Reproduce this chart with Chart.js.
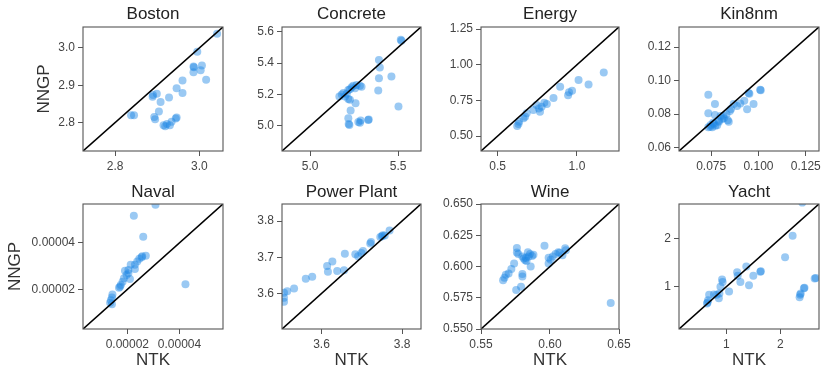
<!DOCTYPE html>
<html>
<head>
<meta charset="utf-8">
<script src="https://cdn.jsdelivr.net/npm/chart.js@4.4.1/dist/chart.umd.min.js"></script>
<style>
  html, body { margin: 0; padding: 0; background: #fff; }
  #wrap { position: relative; width: 831px; height: 378px; overflow: hidden; }
  #wrap canvas { position: absolute; left: 0; top: 0; }
</style>
</head>
<body>
<div id="wrap"></div>
<script>
// [NTK, NNGP] pairs
const bostonPts = [[2.838,2.820],[2.845,2.820],[2.889,2.869],[2.890,2.874],[2.899,2.877],[2.908,2.855],[2.928,2.867],[2.904,2.830],[2.893,2.815],[2.895,2.809],[2.915,2.793],[2.919,2.790],[2.923,2.796],[2.930,2.793],[2.934,2.802],[2.944,2.811],[2.946,2.814],[2.946,2.892],[2.960,2.879],[2.960,2.913],[2.986,2.950],[2.987,2.948],[2.986,2.935],[2.995,2.990],[3.006,2.953],[3.003,2.940],[3.016,2.915],[3.042,3.038]];
const concretePts = [[5.515,5.548],[5.519,5.542],[5.391,5.420],[5.396,5.372],[5.391,5.304],[5.462,5.314],[5.387,5.225],[5.502,5.123],[5.166,5.187],[5.180,5.200],[5.189,5.210],[5.198,5.187],[5.208,5.204],[5.217,5.229],[5.226,5.233],[5.236,5.246],[5.245,5.255],[5.255,5.240],[5.264,5.261],[5.283,5.255],[5.292,5.250],[5.217,5.172],[5.226,5.166],[5.258,5.144],[5.230,5.098],[5.217,5.049],[5.223,5.006],[5.219,5.012],[5.274,5.025],[5.283,5.020],[5.287,5.035],[5.330,5.038],[5.333,5.040]];
const energyPts = [[1.169,0.946],[1.010,0.893],[1.073,0.862],[0.894,0.846],[0.969,0.818],[0.950,0.808],[0.944,0.787],[0.852,0.766],[0.794,0.734],[0.810,0.724],[0.777,0.706],[0.760,0.694],[0.746,0.717],[0.767,0.671],[0.725,0.682],[0.683,0.659],[0.673,0.636],[0.663,0.624],[0.635,0.600],[0.631,0.584],[0.623,0.570]];
const kinPts = [[0.0735,0.0916],[0.0770,0.0860],[0.0735,0.0805],[0.0770,0.0795],[0.0735,0.0722],[0.0747,0.0735],[0.0756,0.0722],[0.0765,0.0743],[0.0772,0.0730],[0.0782,0.0734],[0.0791,0.0754],[0.0800,0.0789],[0.0808,0.0771],[0.0817,0.0775],[0.0831,0.0799],[0.0838,0.0764],[0.0843,0.0754],[0.0849,0.0819],[0.0869,0.0860],[0.0887,0.0848],[0.0904,0.0863],[0.0925,0.0880],[0.0940,0.0829],[0.0948,0.0926],[0.0952,0.0922],[0.0974,0.0860],[0.1009,0.0945],[0.1012,0.0942],[0.0760,0.0748],[0.0790,0.0760],[0.0815,0.0790],[0.0855,0.0830],[0.0745,0.0725]];
const navalPts = [[3.08e-5,5.64e-5],[2.25e-5,5.16e-5],[2.61e-5,4.26e-5],[2.57e-5,3.42e-5],[2.71e-5,3.45e-5],[2.55e-5,3.38e-5],[2.46e-5,3.32e-5],[2.38e-5,3.20e-5],[2.29e-5,3.06e-5],[2.29e-5,2.88e-5],[2.13e-5,3.06e-5],[2.04e-5,2.84e-5],[1.91e-5,2.80e-5],[2.04e-5,2.70e-5],[1.97e-5,2.62e-5],[1.87e-5,2.48e-5],[2.10e-5,2.45e-5],[1.82e-5,2.33e-5],[1.75e-5,2.19e-5],[1.68e-5,2.07e-5],[1.72e-5,2.12e-5],[1.43e-5,1.78e-5],[1.41e-5,1.65e-5],[1.37e-5,1.54e-5],[1.34e-5,1.43e-5],[1.41e-5,1.36e-5],[4.23e-5,2.22e-5]];
const powerPts = [[3.507,3.577],[3.507,3.588],[3.507,3.602],[3.515,3.606],[3.532,3.614],[3.561,3.641],[3.577,3.646],[3.614,3.676],[3.616,3.660],[3.627,3.688],[3.639,3.662],[3.656,3.664],[3.658,3.710],[3.684,3.708],[3.691,3.703],[3.699,3.712],[3.703,3.717],[3.721,3.738],[3.723,3.742],[3.746,3.756],[3.750,3.758],[3.752,3.761],[3.757,3.760],[3.769,3.774]];
const winePts = [[0.576,0.6148],[0.576,0.6113],[0.577,0.610],[0.580,0.608],[0.581,0.6065],[0.582,0.605],[0.5825,0.607],[0.583,0.6045],[0.584,0.6115],[0.5855,0.610],[0.587,0.6085],[0.588,0.6095],[0.5845,0.608],[0.574,0.6025],[0.572,0.598],[0.570,0.5945],[0.568,0.5935],[0.567,0.591],[0.566,0.589],[0.580,0.594],[0.580,0.592],[0.586,0.600],[0.5755,0.5812],[0.579,0.5839],[0.596,0.6167],[0.599,0.607],[0.6005,0.6055],[0.599,0.6025],[0.602,0.608],[0.604,0.610],[0.606,0.6115],[0.607,0.611],[0.609,0.609],[0.611,0.6147],[0.6115,0.613],[0.644,0.5708]];
const yachtPts = [[2.41,2.75],[2.23,2.06],[2.09,1.61],[2.64,1.17],[2.66,1.18],[2.44,0.97],[2.45,0.98],[2.38,0.86],[2.37,0.83],[2.36,0.78],[1.63,1.31],[1.64,1.32],[1.50,1.23],[1.42,1.03],[1.37,1.42],[1.20,1.30],[1.21,1.23],[1.26,1.10],[1.05,0.90],[0.92,1.15],[0.93,1.10],[0.89,1.00],[0.87,0.86],[0.86,0.76],[0.77,0.84],[0.82,0.83],[0.68,0.83],[0.66,0.72],[0.64,0.65],[0.65,0.67]];

// axis limits (same on both axes, diagonal runs corner to corner)
const bostonLim = [2.724, 3.056];
const concreteLim = [4.84, 5.63];
const energyLim = [0.395, 1.265];
const kinLim = [0.058, 0.132];
const navalLim = [0.000003, 0.0000567];
const powerLim = [3.502, 3.847];
const wineLim = [0.55, 0.65];
const yachtLim = [0.12, 2.72];

// tick labels
const bostonX = ['2.8', '3.0'], bostonY = ['2.8', '2.9', '3.0'];
const concreteX = ['5.0', '5.5'], concreteY = ['5.0', '5.2', '5.4', '5.6'];
const energyX = ['0.5', '1.0'], energyY = ['0.50', '0.75', '1.00', '1.25'];
const kinX = ['0.075', '0.100', '0.125'], kinY = ['0.06', '0.08', '0.10', '0.12'];
const navalX = ['0.00002', '0.00004'], navalY = ['0.00002', '0.00004'];
const powerX = ['3.6', '3.8'], powerY = ['3.6', '3.7', '3.8'];
const wineX = ['0.55', '0.60', '0.65'], wineY = ['0.550', '0.575', '0.600', '0.625', '0.650'];
const yachtX = ['1', '2'], yachtY = ['1', '2'];

const panels = [
  { name: 'Boston', pts: bostonPts, lim: bostonLim, xt: bostonX, yt: bostonY },
  { name: 'Concrete', pts: concretePts, lim: concreteLim, xt: concreteX, yt: concreteY },
  { name: 'Energy', pts: energyPts, lim: energyLim, xt: energyX, yt: energyY },
  { name: 'Kin8nm', pts: kinPts, lim: kinLim, xt: kinX, yt: kinY },
  { name: 'Naval', pts: navalPts, lim: navalLim, xt: navalX, yt: navalY },
  { name: 'Power Plant', pts: powerPts, lim: powerLim, xt: powerX, yt: powerY },
  { name: 'Wine', pts: winePts, lim: wineLim, xt: wineX, yt: wineY },
  { name: 'Yacht', pts: yachtPts, lim: yachtLim, xt: yachtX, yt: yachtY }
];

// layout in page pixels
const W = 831, H = 378;
const cols = [[83, 223], [282, 421], [481, 619], [679, 819]];
const rows = [
  { top: 27, bottom: 151, titleY: 14, yTitleX: 44 },
  { top: 204, bottom: 329, titleY: 192.5, yTitleX: 15 }
];
const FONT = '"Liberation Sans", Arial, Helvetica, sans-serif';
const BIG = 17, HALF = BIG * 1.2 / 2;
const INK = '#555';

Chart.defaults.font.family = FONT;

const frame = {
  id: 'frame',
  afterDatasetsDraw(chart) {
    const a = chart.chartArea, ctx = chart.ctx;
    ctx.save();
    ctx.strokeStyle = INK;
    ctx.lineWidth = 1.1;
    ctx.strokeRect(a.left, a.top, a.right - a.left, a.bottom - a.top);
    ctx.restore();
  }
};

const wrap = document.getElementById('wrap');

panels.forEach((p, i) => {
  const r = rows[Math.floor(i / 4)];
  const c = cols[i % 4];
  const firstCol = i % 4 === 0, lastRow = i >= 4;
  const wy = firstCol ? c[0] - r.yTitleX + HALF : 60;
  const hx = lastRow ? 360 + HALF - r.bottom : 30;

  const cv = document.createElement('canvas');
  cv.width = W; cv.height = H;
  cv.style.width = W + 'px'; cv.style.height = H + 'px';
  wrap.appendChild(cv);

  const tickCfg = (labels) => ({
    font: { size: 12 },
    color: '#444',
    padding: 3,
    autoSkip: false,
    maxRotation: 0,
    callback: (v) => {
      const l = labels.find(s => Math.abs(parseFloat(s) - v) < 1e-12);
      return l === undefined ? '' : l;
    }
  });

  new Chart(cv, {
    type: 'scatter',
    data: {
      datasets: [
        {
          data: [{ x: p.lim[0], y: p.lim[0] }, { x: p.lim[1], y: p.lim[1] }],
          showLine: true,
          borderColor: '#000',
          borderWidth: 1.6,
          pointRadius: 0,
          clip: 0
        },
        {
          data: p.pts.map(d => ({ x: d[0], y: d[1] })),
          backgroundColor: 'rgba(30,136,229,0.45)',
          pointRadius: 4,
          borderWidth: 0,
          clip: 0
        }
      ]
    },
    options: {
      responsive: false,
      animation: false,
      devicePixelRatio: 1,
      events: [],
      layout: {
        padding: {
          left: c[0] - wy,
          right: W - c[1],
          top: r.titleY - HALF,
          bottom: H - r.bottom - hx
        }
      },
      plugins: {
        legend: { display: false },
        tooltip: { enabled: false },
        title: {
          display: true,
          text: p.name,
          fullSize: false,
          color: '#222',
          font: { size: BIG, weight: 'normal' },
          padding: { top: 0, bottom: r.top - r.titleY - HALF }
        }
      },
      scales: {
        x: {
          type: 'linear',
          min: p.lim[0],
          max: p.lim[1],
          afterBuildTicks: (s) => { s.ticks = p.xt.map(v => ({ value: parseFloat(v) })); },
          afterFit: (s) => { s.height = hx; },
          grid: { drawOnChartArea: false, tickLength: 5, color: INK, lineWidth: 1 },
          border: { display: false },
          ticks: tickCfg(p.xt),
          title: { display: lastRow, text: 'NTK', color: '#333', font: { size: BIG }, padding: 0 }
        },
        y: {
          type: 'linear',
          min: p.lim[0],
          max: p.lim[1],
          afterBuildTicks: (s) => { s.ticks = p.yt.map(v => ({ value: parseFloat(v) })); },
          afterFit: (s) => { s.width = wy; },
          grid: { drawOnChartArea: false, tickLength: 5, color: INK, lineWidth: 1 },
          border: { display: false },
          ticks: tickCfg(p.yt),
          title: { display: firstCol, text: 'NNGP', color: '#333', font: { size: BIG }, padding: 0 }
        }
      }
    },
    plugins: [frame]
  });
});
</script>
</body>
</html>
